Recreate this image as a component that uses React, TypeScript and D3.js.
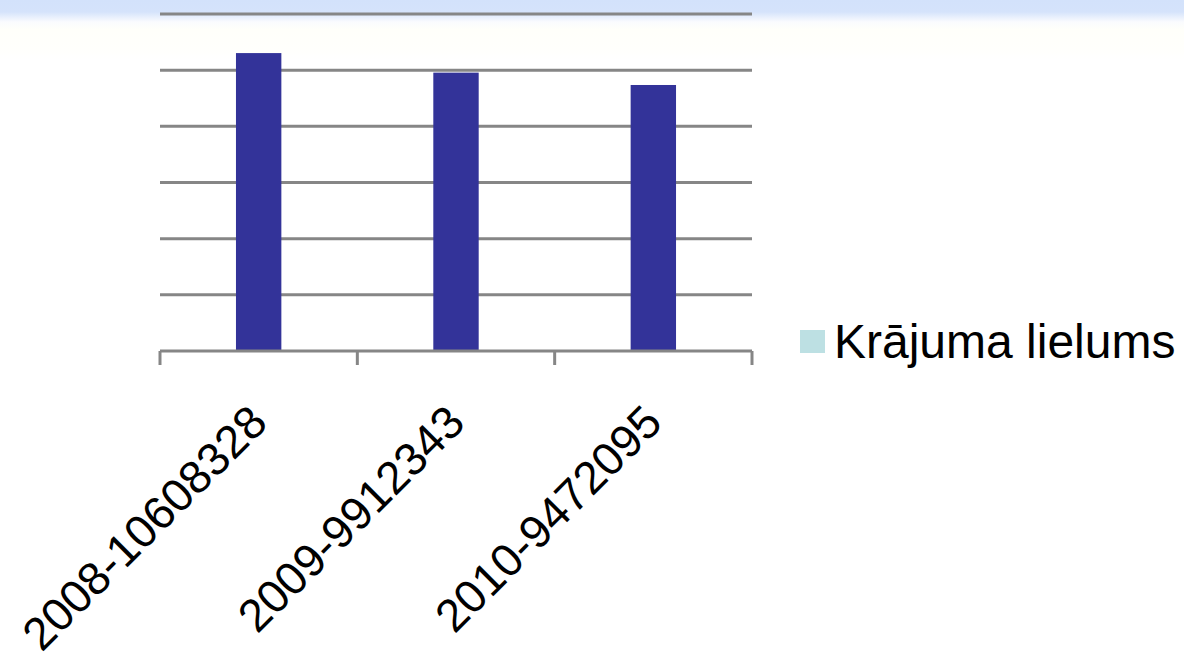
import * as d3 from "d3";

const categories = ["2008-10608328", "2009-9912343", "2010-9472095"];
const values = [10608328, 9912343, 9472095];
const seriesName = "Krājuma lielums";
const yTicks = [0, 2000000, 4000000, 6000000, 8000000, 10000000, 12000000];

const W = 1184;
const H = 662;
const left = 160;
const right = 752;
const top = 14;
const bottom = 351;

export default function App() {
  const x = d3.scaleBand<string>().domain(categories).range([left, right]).paddingInner(0.77).paddingOuter(0.385);
  const band = d3.scaleBand<string>().domain(categories).range([left, right]);
  const y = d3.scaleLinear().domain([0, 12000000]).range([bottom, top]);
  const font = "'Liberation Sans', Arial, sans-serif";

  return (
    <div style={{ position: "absolute", left: 0, top: 0 }}>
      <svg width={W} height={H} style={{ display: "block" }}>
        <defs>
          <linearGradient id="bg" x1="0" y1="0" x2="0" y2="1">
            <stop offset="0" stopColor="#d3e2fb" />
            <stop offset="0.018" stopColor="#d5e3fb" />
            <stop offset="0.033" stopColor="#fafbfe" />
            <stop offset="0.045" stopColor="#fffffa" />
            <stop offset="0.075" stopColor="#fffffc" />
            <stop offset="0.09" stopColor="#ffffff" />
            <stop offset="1" stopColor="#ffffff" />
          </linearGradient>
        </defs>
        <rect x={0} y={0} width={W} height={H} fill="url(#bg)" />

        {/* gridlines */}
        <g stroke="#868686" strokeWidth={3}>
          {yTicks.slice(1).map((t) => (
            <line key={t} x1={left} x2={right} y1={y(t)} y2={y(t)} />
          ))}
        </g>

        {/* bars */}
        <g fill="#333399">
          {categories.map((c, i) => (
            <rect key={c} x={x(c)} width={x.bandwidth()} y={y(values[i])} height={bottom - y(values[i])} />
          ))}
        </g>

        {/* x axis */}
        <g stroke="#868686" strokeWidth={3}>
          <line x1={left} x2={right} y1={bottom} y2={bottom} />
          {[...categories.map((c) => band(c) as number), right].map((tx, i) => (
            <line key={i} x1={tx} x2={tx} y1={bottom} y2={bottom + 14} />
          ))}
        </g>

        {/* rotated labels */}
        <g fontFamily={font} fontSize={46} fill="#000">
          {categories.map((c) => {
            const cx = (band(c) as number) + band.bandwidth() / 2;
            return (
              <text key={c} textAnchor="end" transform={`translate(${cx + 11},${bottom + 74}) rotate(-45)`}>
                {c}
              </text>
            );
          })}
        </g>

        {/* legend */}
        <rect x={800} y={330} width={25} height={23} fill="#bde0e3" />
        <text x={834} y={358} fontFamily={font} fontSize={48} fill="#000">
          {seriesName}
        </text>
      </svg>
    </div>
  );
}
